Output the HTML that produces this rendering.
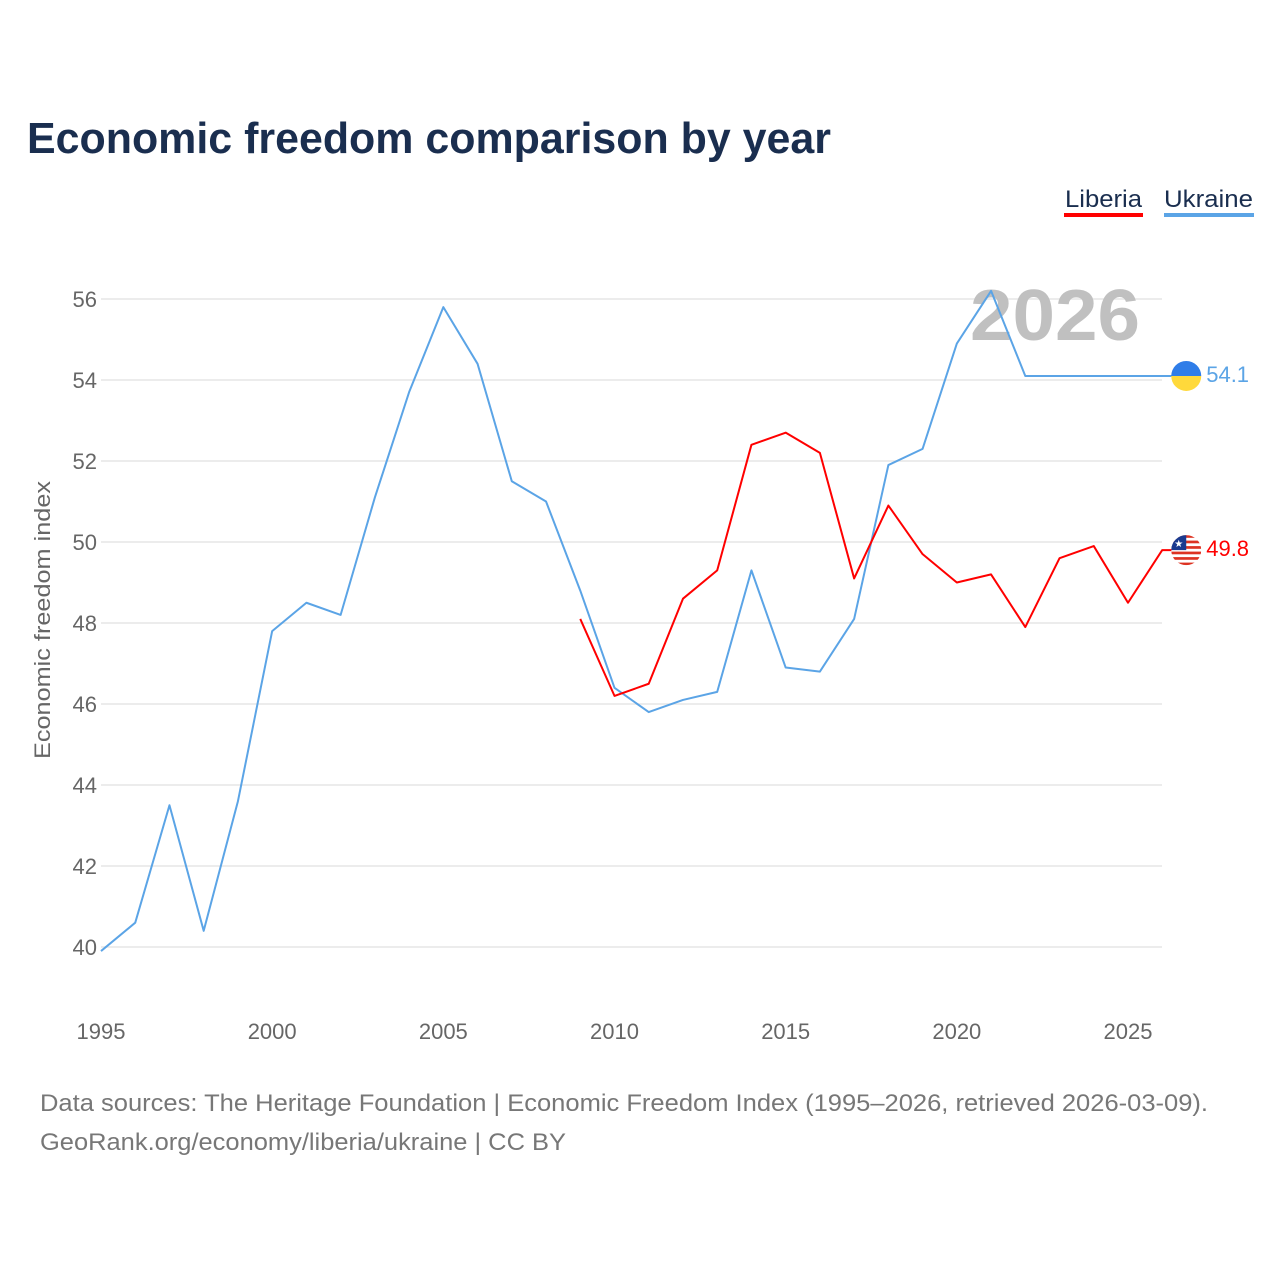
<!DOCTYPE html>
<html><head><meta charset="utf-8"><style>
body{margin:0;background:#fff;font-family:"Liberation Sans",sans-serif}
</style></head><body>
<svg width="1280" height="1280" xmlns="http://www.w3.org/2000/svg" font-family="Liberation Sans, sans-serif">
<defs><clipPath id="lbclip"><circle cx="1186" cy="550" r="15"/></clipPath></defs>
<rect width="1280" height="1280" fill="#fff"/>
<text x="27" y="153" font-size="44" font-weight="bold" fill="#1a2e4f" textLength="804" lengthAdjust="spacingAndGlyphs">Economic freedom comparison by year</text>
<g>
<text x="1065" y="207" font-size="24" fill="#1a2e4f" textLength="77" lengthAdjust="spacingAndGlyphs">Liberia</text>
<rect x="1064" y="213" width="79" height="4" fill="#f00"/>
<text x="1164" y="207" font-size="24" fill="#1a2e4f" textLength="89" lengthAdjust="spacingAndGlyphs">Ukraine</text>
<rect x="1164" y="213" width="90" height="4" fill="#5ba4e6"/>
</g>
<g id="grid"></g>
<text x="1055" y="340" font-size="72" font-weight="bold" fill="#c0c0c0" text-anchor="middle" textLength="170" lengthAdjust="spacingAndGlyphs">2026</text>
<text transform="translate(50,620) rotate(-90)" font-size="22" fill="#666" text-anchor="middle" textLength="278" lengthAdjust="spacingAndGlyphs">Economic freedom index</text>
<g id="series"></g>
<text x="40" y="1111" font-size="24" fill="#777" textLength="1168" lengthAdjust="spacingAndGlyphs">Data sources: The Heritage Foundation | Economic Freedom Index (1995–2026, retrieved 2026-03-09).</text>
<text x="40" y="1150" font-size="24" fill="#777" textLength="526" lengthAdjust="spacingAndGlyphs">GeoRank.org/economy/liberia/ukraine | CC BY</text>
</svg>
<script>
const years=[1995,1996,1997,1998,1999,2000,2001,2002,2003,2004,2005,2006,2007,2008,2009,2010,2011,2012,2013,2014,2015,2016,2017,2018,2019,2020,2021,2022,2023,2024,2025,2026];
const ukraine=[39.9,40.6,43.5,40.4,43.6,47.8,48.5,48.2,51.1,53.7,55.8,54.4,51.5,51.0,48.8,46.4,45.8,46.1,46.3,49.3,46.9,46.8,48.1,51.9,52.3,54.9,56.2,54.1,54.1,54.1,54.1,54.1];
const liberiaYears=[2009,2010,2011,2012,2013,2014,2015,2016,2017,2018,2019,2020,2021,2022,2023,2024,2025,2026];
const liberia=[48.1,46.2,46.5,48.6,49.3,52.4,52.7,52.2,49.1,50.9,49.7,49.0,49.2,47.9,49.6,49.9,48.5,49.8];
const yTicks=[40,42,44,46,48,50,52,54,56];
const xTicks=[1995,2000,2005,2010,2015,2020,2025];
const NS="http://www.w3.org/2000/svg";
const x=v=>101+(v-1995)*(1027/30);
const y=v=>947-(v-40)*40.5;
function mk(t,a,p){const e=document.createElementNS(NS,t);for(const k in a)e.setAttribute(k,a[k]);p.appendChild(e);return e;}
const g=document.getElementById('grid');
yTicks.forEach(t=>{
 const l=mk('line',{x1:101,x2:1162,y1:y(t),y2:y(t),stroke:'#e6e6e6','stroke-width':1.5},g);
 
 
 const tx=mk('text',{x:97,y:y(t)+8,'font-size':22,fill:'#666','text-anchor':'end'},g);tx.textContent=t;
 
 
});
xTicks.forEach(t=>{
 const tx=mk('text',{x:x(t),y:1039,'font-size':22,fill:'#666','text-anchor':'middle'},g);tx.textContent=t;
 
 
});
const s=document.getElementById('series');
function line(xs,vs,c,name){
 const p=mk('polyline',{points:xs.map((yr,i)=>x(yr)+','+y(vs[i])).join(' ')+' '+(x(xs[xs.length-1])+24)+','+y(vs[vs.length-1]),fill:'none',stroke:c,'stroke-width':2,'stroke-linejoin':'round'},s);
 
 
 const lv=vs[vs.length-1],cx=x(xs[xs.length-1])+24,cy=y(lv);
 return [cx,cy,lv];
}
const [ux,uy,uv]=line(years,ukraine,'#5ba4e6','ukraine');
const [lx,ly,lv]=line(liberiaYears,liberia,'#f00','liberia');
let f=mk('g',{},s);
mk('path',{d:`M${ux-15},${uy} a15,15 0 0 1 30,0 z`,fill:'#2f7de8'},f);
mk('path',{d:`M${ux-15},${uy} a15,15 0 0 0 30,0 z`,fill:'#ffd93b'},f);
let t=mk('text',{x:ux+20,y:uy+6,'font-size':22,fill:'#5ba4e6'},s);t.textContent=uv.toFixed(1);


const cp=document.querySelector('#lbclip circle');cp.setAttribute('cx',lx);cp.setAttribute('cy',ly);
f=mk('g',{'clip-path':'url(#lbclip)'},s);
mk('circle',{cx:lx,cy:ly,r:15,fill:'#fff'},f);
for(let i=0;i<6;i++)mk('rect',{x:lx-15,y:ly-15+i*5.5,width:30,height:2.7,fill:'#d32'},f);
mk('rect',{x:lx-15,y:ly-15,width:15,height:15,fill:'#1a3a8f'},f);
let st=mk('text',{x:lx-7.5,y:ly-3,'font-size':10,fill:'#fff','text-anchor':'middle'},f);st.textContent='★';
t=mk('text',{x:lx+20,y:ly+6,'font-size':22,fill:'#f00'},s);t.textContent=lv.toFixed(1);


</script>
</body></html>
